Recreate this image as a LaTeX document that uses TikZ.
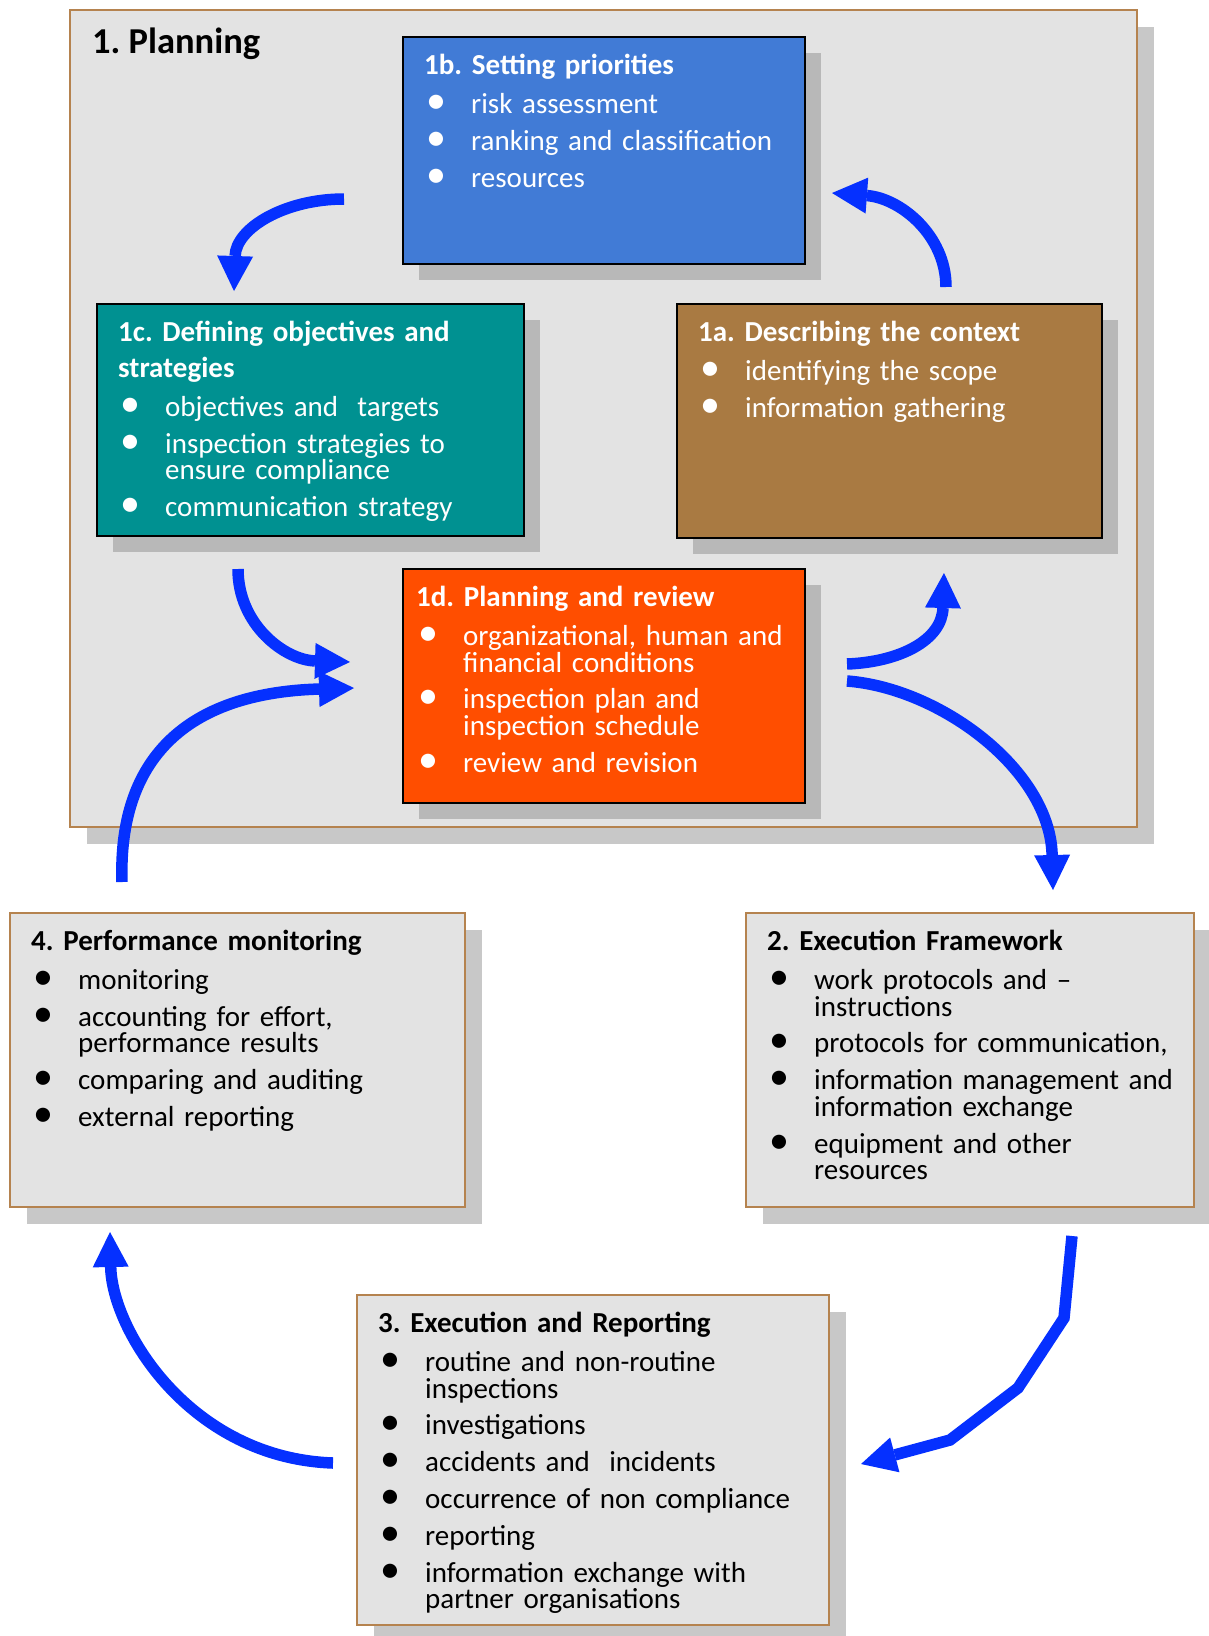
\documentclass[tikz,border=0pt]{standalone}
\usepackage{fontspec}
\setmainfont{Carlito}
\usetikzlibrary{arrows.meta,shadows}

\definecolor{panel}{HTML}{E3E3E3}
\definecolor{panelrule}{HTML}{B5834F}
\definecolor{shdin}{HTML}{B8B8B8}
\definecolor{shdout}{HTML}{C8C8C8}
\definecolor{prioblue}{HTML}{417BD6}
\definecolor{objteal}{HTML}{009191}
\definecolor{ctxbrown}{HTML}{A97A42}
\definecolor{revorange}{HTML}{FF4E00}
\definecolor{flowblue}{HTML}{0530FF}

% bullet list helpers for the box texts
\newcommand\itembullet{\makebox[47pt][l]{\hspace{2pt}{\fontsize{40}{26.6}\selectfont\symbol{"2022}}}}
\newcommand\bitem[1]{\noindent\hangindent=47pt\hangafter=1\relax\itembullet#1\par}
\newcommand\btitle[1]{{\bfseries\fontsize{29}{36}\selectfont\noindent\rule{0pt}{25pt}#1\par}\vspace{2pt}}

\begin{document}
\frenchspacing
\begin{tikzpicture}[x=1pt,y=-1pt,
  panelbox/.style={draw=panelrule, line width=1.8pt, fill=panel, inner sep=0pt, outer sep=0pt, anchor=north west},
  outshadow/.style={drop shadow={shadow xshift=17pt, shadow yshift=-17pt, fill=shdout, opacity=1}},
  inshadow/.style={drop shadow={shadow xshift=16pt, shadow yshift=-16pt, fill=shdin, opacity=1}},
  stagebox/.style={draw=black, line width=2.2pt, inner sep=0pt, outer sep=0pt, anchor=north west, inshadow},
  boxtext/.style={anchor=north west, inner sep=0pt, text width=#1, align=left,
    font=\fontsize{29}{26.6}\selectfont, execute at begin node={\setlength{\parskip}{10.2pt}}},
  flow/.style={draw=flowblue, line width=11.5pt,
    -{Triangle[width=36pt,length=35pt,line width=0pt]}},
]
\useasboundingbox (0,0) rectangle (1208,1636);

% planning frame
\node[panelbox, outshadow, minimum width=1067pt, minimum height=817pt] (plan) at (70,10) {};
\node[anchor=base west, inner sep=0pt, font=\bfseries\fontsize{36.5}{40}\selectfont] (planT) at (92,53) {1. Planning};

% 1b
\node[stagebox, fill=prioblue, minimum width=402pt, minimum height=227pt] (prio) at (403,37) {};
\node[boxtext=370pt, text=white] (prioT) at ([shift={(21,12.5)}]prio.north west)
  {\btitle{1b. Setting priorities}\bitem{risk assessment}\bitem{ranking and classification}\bitem{resources}};

% 1c
\node[stagebox, fill=objteal, minimum width=427pt, minimum height=232pt] (obj) at (97,304) {};
\node[boxtext=400pt, text=white] (objT) at ([shift={(21,12.5)}]obj.north west)
  {\btitle{1c. Defining objectives and\newline strategies}\bitem{objectives and\ \ targets}\bitem{inspection strategies to\newline ensure compliance}\bitem{communication strategy}};

% 1a
\node[stagebox, fill=ctxbrown, minimum width=425pt, minimum height=234pt] (ctx) at (677,304) {};
\node[boxtext=395pt, text=white] (ctxT) at ([shift={(21,12.5)}]ctx.north west)
  {\btitle{1a. Describing the context}\bitem{identifying the scope}\bitem{information gathering}};

% 1d
\node[stagebox, fill=revorange, minimum width=402pt, minimum height=234pt] (rev) at (403,569) {};
\node[boxtext=385pt, text=white] (revT) at ([shift={(13,12.5)}]rev.north west)
  {\btitle{1d. Planning and review}\bitem{organizational, human and\newline financial conditions}\bitem{inspection plan and\newline inspection schedule}\bitem{review and revision}};

% 4
\node[panelbox, outshadow, minimum width=455pt, minimum height=294pt] (perf) at (10,913) {};
\node[boxtext=430pt] (perfT) at ([shift={(21,12.5)}]perf.north west)
  {\btitle{4. Performance monitoring}\bitem{monitoring}\bitem{accounting for effort,\newline performance results}\bitem{comparing and auditing}\bitem{external reporting}};

% 2
\node[panelbox, outshadow, minimum width=448pt, minimum height=294pt] (exfw) at (746,913) {};
\node[boxtext=420pt] (exfwT) at ([shift={(21,12.5)}]exfw.north west)
  {\btitle{2. Execution Framework}\bitem{work protocols and –\newline instructions}\bitem{protocols for communication,}\bitem{information management and\newline information exchange}\bitem{equipment and other\newline resources}};

% 3
\node[panelbox, outshadow, minimum width=472pt, minimum height=330pt] (exrep) at (357,1295) {};
\node[boxtext=445pt] (exrepT) at ([shift={(21,12.5)}]exrep.north west)
  {\btitle{3. Execution and Reporting}\bitem{routine and non-routine\newline inspections}\bitem{investigations}\bitem{accidents and\ \ incidents}\bitem{occurrence of non compliance}\bitem{reporting}\bitem{information exchange with\newline partner organisations}};

% connector ends
\coordinate (a1s) at (344,199);  \coordinate (a1e) at (234,291);
\coordinate (a2s) at (946,287);  \coordinate (a2e) at (832,193);
\coordinate (a3s) at (238,569);  \coordinate (a3e) at (350,662);
\coordinate (a4s) at (122,882);  \coordinate (a4e) at (354,688);
\coordinate (a5s) at (847,664);  \coordinate (a5e) at (944,573);
\coordinate (a6s) at (847,681);  \coordinate (a6e) at (1053,890);
\coordinate (a7s) at (1072,1236); \coordinate (a7e) at (861,1464);
\coordinate (a8s) at (333,1463); \coordinate (a8e) at (110,1232);

% flow arrows
\draw[flow] (a1s) .. controls (285,199) and (236,228) .. (a1e);
\draw[flow] (a2s) .. controls (946,235) and (900,198) .. (a2e);
\draw[flow] (a3s) .. controls (238,625) and (285,660) .. (a3e);
\draw[flow] (a4s) .. controls (118,760) and (185,693) .. (a4e);
\draw[flow] (a5s) .. controls (900,662) and (942,640) .. (a5e);
\draw[flow] (a6s) .. controls (940,688) and (1050,770) .. (a6e);
\draw[flow] (a7s) -- (1064,1318) -- (1018,1388) -- (950,1440) -- (a7e);
\draw[flow] (a8s) .. controls (190,1458) and (112,1330) .. (a8e);
\end{tikzpicture}
\end{document}
